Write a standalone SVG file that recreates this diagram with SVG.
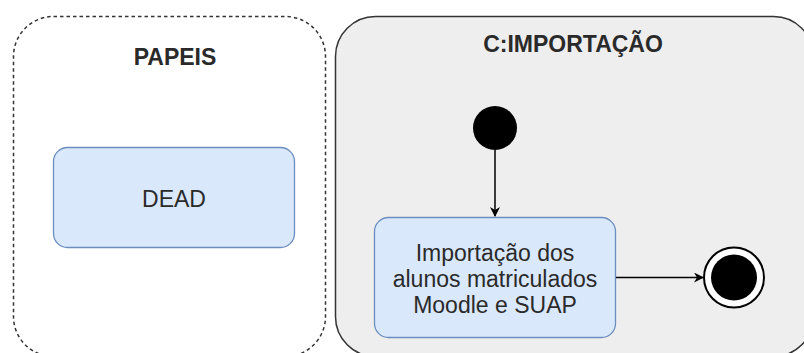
<svg xmlns="http://www.w3.org/2000/svg" width="804" height="353" viewBox="0 0 804 353">
<style>
.t{font-family:"Liberation Sans",Arial,sans-serif;fill:#2a2a2a;text-anchor:middle}
.title{font-size:23px;font-weight:bold}
.lbl{font-size:23px}
.state{fill:#dae8fc;stroke:#6c8ebf;stroke-width:1.3}
.conn{stroke:#000;stroke-width:1.5;fill:none}
</style>
<defs>
<marker id="arr" viewBox="0 0 10 10" refX="9" refY="5" markerWidth="10" markerHeight="10" markerUnits="userSpaceOnUse" orient="auto">
<path d="M0,0 L10,5 L0,10 L3,5 Z" fill="#000"/>
</marker>
</defs>
<rect width="804" height="353" fill="#fff"/>
<g id="papeis">
<rect x="13.5" y="16.5" width="312" height="340" rx="40" ry="40" fill="#fff" stroke="#333" stroke-width="1.5" stroke-dasharray="3.5 3"/>
<text class="t title" x="175" y="65">PAPEIS</text>
</g>
<g id="dead">
<rect class="state" x="53.5" y="147.5" width="241" height="100" rx="14" ry="14"/>
<text class="t lbl" x="174" y="207">DEAD</text>
</g>
<g id="importacao">
<rect x="335.5" y="16.5" width="478" height="340" rx="40" ry="40" fill="#eeeeee" stroke="#333" stroke-width="1.5"/>
<text class="t title" x="573" y="52">C:IMPORTAÇÃO</text>
</g>
<g id="initial">
<circle cx="495" cy="128" r="22" fill="#000"/>
</g>
<g id="atividade">
<rect class="state" x="374.5" y="217.5" width="241" height="120" rx="14" ry="14"/>
<text class="t lbl" x="495" y="261">Importação dos</text>
<text class="t lbl" x="495" y="287">alunos matriculados</text>
<text class="t lbl" x="495" y="313">Moodle e SUAP</text>
</g>
<g id="final">
<circle cx="734" cy="277.5" r="30" fill="#fff" stroke="#000" stroke-width="2"/>
<circle cx="734" cy="277.5" r="23" fill="#000"/>
</g>
<g id="connectors">
<line class="conn" x1="495" y1="150" x2="495" y2="216" marker-end="url(#arr)"/>
<line class="conn" x1="616" y1="277.5" x2="703" y2="277.5" marker-end="url(#arr)"/>
</g>
</svg>
